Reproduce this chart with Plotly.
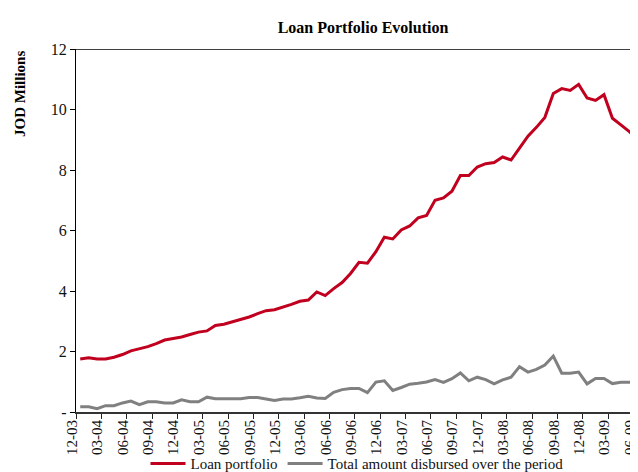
import plotly.graph_objects as go

months = [
    "12-03",
    "01-04", "02-04", "03-04", "04-04", "05-04", "06-04", "07-04", "08-04", "09-04", "10-04", "11-04", "12-04",
    "01-05", "02-05", "03-05", "04-05", "05-05", "06-05", "07-05", "08-05", "09-05", "10-05", "11-05", "12-05",
    "01-06", "02-06", "03-06", "04-06", "05-06", "06-06", "07-06", "08-06", "09-06", "10-06", "11-06", "12-06",
    "01-07", "02-07", "03-07", "04-07", "05-07", "06-07", "07-07", "08-07", "09-07", "10-07", "11-07", "12-07",
    "01-08", "02-08", "03-08", "04-08", "05-08", "06-08", "07-08", "08-08", "09-08", "10-08", "11-08", "12-08",
    "01-09", "02-09", "03-09", "04-09", "05-09", "06-09",
]

tick_labels = [
    "12-03", "03-04", "06-04", "09-04", "12-04", "03-05", "06-05", "09-05", "12-05",
    "03-06", "06-06", "09-06", "12-06", "03-07", "06-07", "09-07", "12-07",
    "03-08", "06-08", "09-08", "12-08", "03-09", "06-09",
]

loan_portfolio = [
    1.75, 1.79, 1.75, 1.75, 1.81, 1.90, 2.02, 2.08, 2.16, 2.26,
    2.38, 2.43, 2.48, 2.56, 2.64, 2.68, 2.86, 2.90, 2.98, 3.06,
    3.14, 3.25, 3.35, 3.38, 3.46, 3.56, 3.66, 3.70, 3.97, 3.85,
    4.08, 4.28, 4.58, 4.95, 4.92, 5.30, 5.78, 5.72, 6.02, 6.15,
    6.42, 6.50, 7.00, 7.08, 7.30, 7.82, 7.82, 8.10, 8.21, 8.25,
    8.43, 8.33, 8.72, 9.12, 9.41, 9.74, 10.53, 10.69, 10.63, 10.83,
    10.38, 10.30, 10.49, 9.71, 9.49, 9.27, 9.01,
]

disbursed = [
    0.17, 0.17, 0.11, 0.21, 0.21, 0.30, 0.36, 0.24, 0.34, 0.34,
    0.30, 0.30, 0.40, 0.34, 0.34, 0.49, 0.44, 0.44, 0.44, 0.44,
    0.48, 0.48, 0.43, 0.38, 0.43, 0.43, 0.47, 0.52, 0.46, 0.45,
    0.65, 0.74, 0.78, 0.78, 0.64, 0.99, 1.03, 0.71, 0.81, 0.92,
    0.95, 0.99, 1.07, 0.98, 1.10, 1.29, 1.03, 1.15, 1.07, 0.93,
    1.06, 1.15, 1.50, 1.32, 1.41, 1.55, 1.85, 1.28, 1.28, 1.32,
    0.93, 1.11, 1.11, 0.94, 0.98, 0.98, 0.98,
]

y_ticks = [0, 2, 4, 6, 8, 10, 12]
y_tick_text = ["-", "2", "4", "6", "8", "10", "12"]

FONT = "Liberation Serif, Times New Roman, serif"
RED = "#C0001E"
GREY = "#808080"

L, R = 68, 4
PW = 638 - L - R

fig = go.Figure()
fig.add_trace(go.Scatter(x=months, y=loan_portfolio, mode="lines", name="Loan portfolio",
                         line=dict(color=RED, width=3)))
fig.add_trace(go.Scatter(x=months, y=disbursed, mode="lines", name="Total amount disbursed over the period",
                         line=dict(color=GREY, width=3)))

fig.update_layout(
    template="none",
    width=638, height=472,
    margin=dict(l=L, r=R, t=41, b=68, autoexpand=False),
    paper_bgcolor="white", plot_bgcolor="white",
    font=dict(family=FONT, size=15, color="#111"),
    title=dict(text="<b>Loan Portfolio Evolution</b>", xref="paper", x=(355 - L) / PW, xanchor="center",
               y=1 - 19 / 472, yanchor="middle", font=dict(size=16, family=FONT, color="#000")),
    showlegend=True,
    legend=dict(orientation="h", x=(349 - L) / PW, xanchor="center", y=-0.097, yanchor="top",
                font=dict(size=15, family=FONT, color="#111"), bgcolor="rgba(0,0,0,0)",
                itemwidth=35, tracegroupgap=0),
    xaxis=dict(
        type="category", categoryorder="array", categoryarray=months,
        range=[-0.5, len(months) - 0.5],
        tickmode="array", tickvals=tick_labels, ticktext=tick_labels,
        tickson="boundaries", ticks="outside", ticklen=5, tickwidth=1.3, tickcolor="#222",
        tickangle=-90, tickfont=dict(size=15, family=FONT, color="#111"),
        ticklabeloverflow="allow", ticklabelshift=-8,
        showline=True, linecolor="#333", linewidth=2,
        showgrid=False, zeroline=False, automargin=False,
    ),
    yaxis=dict(
        range=[0, 12], tickmode="array", tickvals=y_ticks, ticktext=y_tick_text,
        ticks="outside", ticklen=5, tickwidth=1.3, tickcolor="#000",
        tickfont=dict(size=16, family=FONT, color="#111"),
        showline=True, linecolor="#000", linewidth=1.3,
        showgrid=False, zeroline=False, automargin=False,
    ),
    shapes=[dict(type="line", xref="paper", yref="y", x0=0, x1=1, y0=12, y1=12,
                 line=dict(color="#000", width=1.3))],
    annotations=[dict(text="<b>JOD Millions</b>", xref="paper", yref="paper",
                      x=(12 - L) / PW, y=(404 - 86) / 363, textangle=-90,
                      showarrow=False, xanchor="center", yanchor="middle",
                      font=dict(size=15, family=FONT, color="#000"))],
)

fig.write_html("out.html")
